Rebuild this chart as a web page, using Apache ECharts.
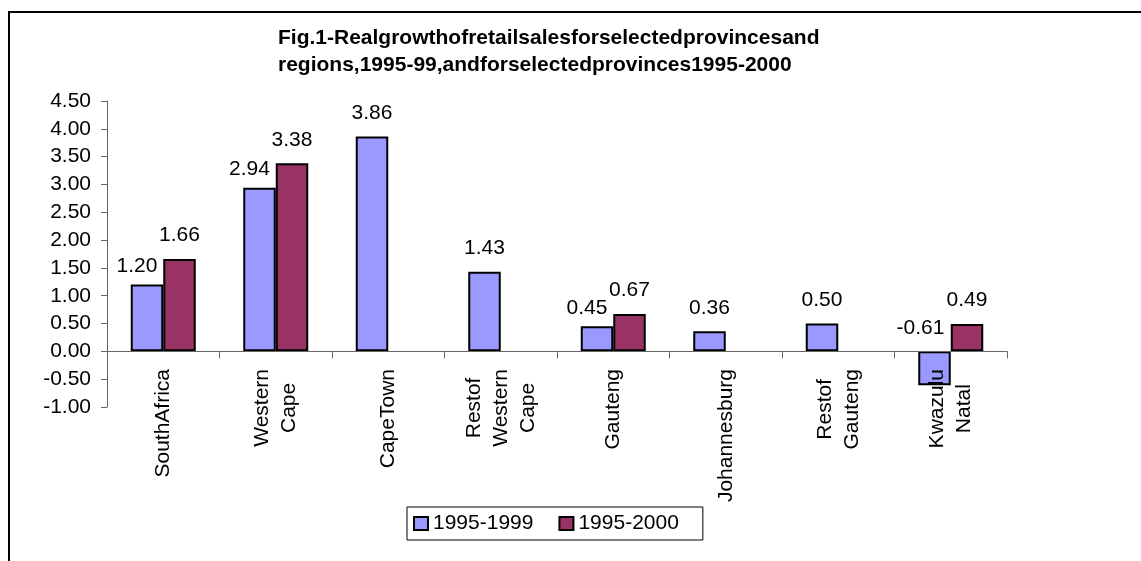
<!DOCTYPE html>
<html>
<head>
<meta charset="utf-8">
<script src="https://cdn.jsdelivr.net/npm/echarts@6/dist/echarts.min.js"></script>
<style>
  html, body { margin: 0; padding: 0; background: #fff; }
  #wrap { position: relative; width: 1141px; height: 561px; overflow: hidden; }
  #frame { position: absolute; left: 8px; top: 11px; right: -4px; bottom: -4px;
           border-top: 2px solid #000; border-left: 2px solid #000; }
  #chart { position: absolute; left: 0; top: 0; width: 1141px; height: 561px; }
</style>
</head>
<body>
<div id="wrap">
  <div id="frame"></div>
  <div id="chart"></div>
</div>
<script>
// Regions / provinces along the category axis
const categories = [
  'SouthAfrica', 'Western\nCape', 'CapeTown', 'Restof\nWestern\nCape',
  'Gauteng', 'Johannesburg', 'Restof\nGauteng', 'Kwazulu\nNatal'
];
// Real growth of retail sales (%)
const growth1995to1999 = [1.20, 2.94, 3.86, 1.43, 0.45, 0.36, 0.50, -0.61];
const growth1995to2000 = [1.66, 3.38, null, null, 0.67, null, null, 0.49];
const seriesNames = ['1995-1999', '1995-2000'];
const titleLines = [
  'Fig.1-Realgrowthofretailsalesforselectedprovincesand',
  'regions,1995-99,andforselectedprovinces1995-2000'
];
const yMin = -1, yMax = 4.5, yStep = 0.5;

const FONT = "'Liberation Sans', Arial, sans-serif";
const chart = echarts.init(document.getElementById('chart'), null, { renderer: 'canvas' });

function valueLabel(v) { return v == null ? '' : Number(v).toFixed(2); }

// Blue bars that sit next to a maroon bar have their labels nudged left
const blueData = growth1995to1999.map(function (v, i) {
  const paired = growth1995to2000[i] != null;
  const item = { value: v };
  if (paired) {
    item.label = { offset: v < 0 ? [-14, 0] : [-10, 5] };
  }
  if (v < 0) {
    item.label = Object.assign(item.label || {}, { position: 'top' });
  }
  return item;
});

const option = {
  animation: false,
  backgroundColor: 'transparent',
  title: {
    text: titleLines.join('\n'),
    left: 278,
    top: 25,
    padding: 0,
    textStyle: { fontFamily: FONT, fontSize: 21, fontWeight: 'bold', color: '#000', lineHeight: 27 }
  },
  legend: {
    data: seriesNames,
    left: 407,
    top: 507,
    orient: 'horizontal',
    padding: [6, 24, 6, 6],
    itemGap: 25,
    itemWidth: 14,
    itemHeight: 13,
    borderColor: '#000',
    borderWidth: 1,
    backgroundColor: '#fff',
    icon: 'rect',
    textStyle: { fontFamily: FONT, fontSize: 21, color: '#000' }
  },
  grid: {
    left: 107, right: 134, top: 101, bottom: 154,
    containLabel: false,
    outerBoundsMode: 'none'
  },
  xAxis: {
    type: 'category',
    data: categories,
    z: 3,
    axisLine: { onZero: true, lineStyle: { color: '#666', width: 1 } },
    axisTick: { show: true, length: 7, lineStyle: { color: '#666' } },
    axisLabel: {
      rotate: 90,
      interval: 0,
      margin: -38,
      fontFamily: FONT,
      fontSize: 21,
      color: '#000',
      lineHeight: 27,
      formatter: function (value) {
        return value.split('\n').map(function (line) { return '{c|' + line + '}'; }).join('\n');
      },
      rich: { c: { align: 'center', fontFamily: FONT, fontSize: 21, color: '#000', lineHeight: 27 } }
    },
    splitLine: { show: false }
  },
  yAxis: {
    type: 'value',
    min: yMin,
    max: yMax,
    interval: yStep,
    axisLine: { show: true, lineStyle: { color: '#666', width: 1 } },
    axisTick: { show: true, length: 6, lineStyle: { color: '#666' } },
    axisLabel: {
      margin: 16,
      fontFamily: FONT,
      fontSize: 21,
      color: '#000',
      formatter: function (v) { return v.toFixed(2); }
    },
    splitLine: { show: false }
  },
  series: [
    {
      name: seriesNames[0],
      type: 'bar',
      data: blueData,
      barWidth: 32.5,
      barGap: '0%',
      itemStyle: { color: '#9999ff', borderColor: '#000', borderWidth: 2 },
      label: {
        show: true, position: 'top', distance: 13,
        fontFamily: FONT, fontSize: 21, color: '#000',
        formatter: function (p) { return valueLabel(p.value); }
      }
    },
    {
      name: seriesNames[1],
      type: 'bar',
      data: growth1995to2000,
      barWidth: 32.5,
      barGap: '0%',
      itemStyle: { color: '#993366', borderColor: '#000', borderWidth: 2 },
      label: {
        show: true, position: 'top', distance: 13,
        fontFamily: FONT, fontSize: 21, color: '#000',
        formatter: function (p) { return valueLabel(p.value); }
      }
    }
  ]
};
chart.setOption(option);
</script>
</body>
</html>
